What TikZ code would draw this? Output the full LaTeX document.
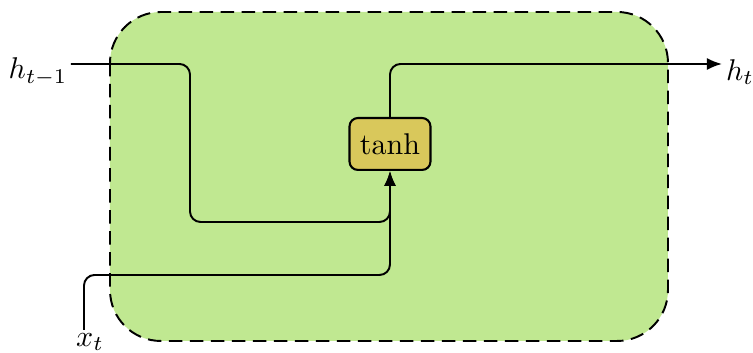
\documentclass[tikz,border=0pt]{standalone}
\usetikzlibrary{arrows.meta}
\definecolor{cellgreen}{HTML}{C0E891}
\definecolor{gatefill}{HTML}{D9C85B}
\tikzset{
  cell/.style={draw=black, fill=cellgreen, line width=0.65pt, dash pattern=on 4.5pt off 2.5pt, rounded corners=17pt},
  gate/.style={draw=black, fill=gatefill, line width=0.7pt, rounded corners=2.8pt, minimum width=27pt, minimum height=17.3pt, inner sep=0pt},
  wire/.style={line width=0.65pt, rounded corners=3.5pt},
  arr/.style={-{Latex[length=5pt,width=4pt]}},
  lbl/.style={inner sep=0pt}
}
\begin{document}
\begin{tikzpicture}[x=0.3333pt,y=-0.3333pt]
\useasboundingbox (0,0) rectangle (753,353);
\draw[cell] (110,12) rectangle (668,341);
\node[gate] (tanh) at (390,144) {tanh};
\node[lbl] (hprev) at (38,72) {$h_{t-1}$};
\node[lbl] (hnext) at (740,72) {$h_t$};
\node[lbl] (xt) at (90,342) {$x_t$};
\coordinate (in1) at (71,64);
\coordinate (in2) at (84,330);
\coordinate (out) at (722,64);
\draw[wire,arr] (in1) -- (190,64) -- (190,222) -- (tanh.south |- 0,222) -- (tanh.south);
\draw[wire,arr] (in2) -- (84,275) -- (tanh.south |- 0,275) -- (tanh.south);
\draw[wire,arr] (tanh.north) -- (tanh.north |- 0,64) -- (out);
\end{tikzpicture}
\end{document}
